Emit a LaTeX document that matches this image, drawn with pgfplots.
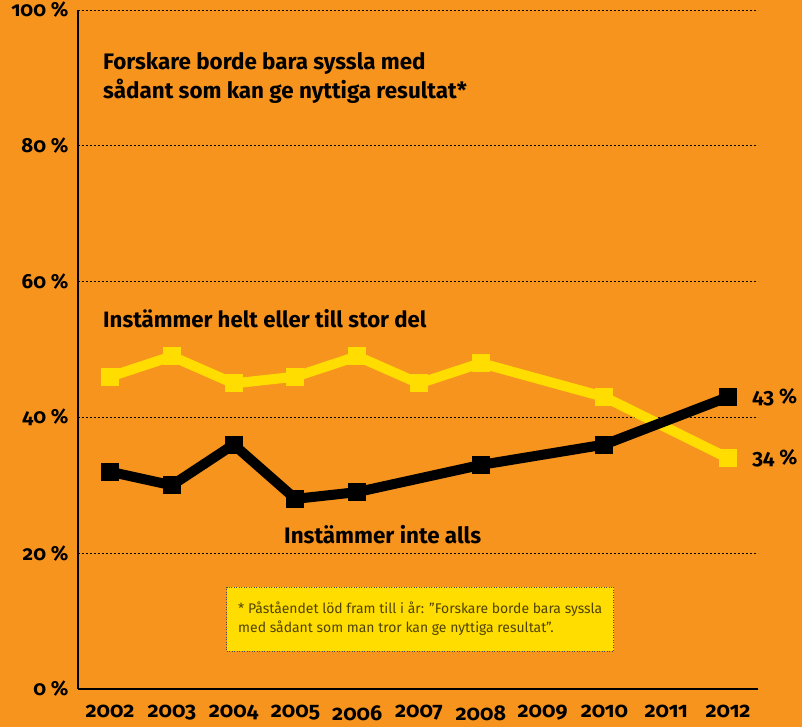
\documentclass[border=0pt]{standalone}
\usepackage{fontspec}
\setmainfont{Fira Sans}[Numbers=OldStyle]
\usepackage{pgfplots}
\pgfplotsset{compat=1.18}
\usetikzlibrary{backgrounds}
\definecolor{bgorange}{RGB}{247,148,30}
\definecolor{lineyellow}{RGB}{255,221,0}
\definecolor{notetext}{RGB}{80,68,0}

\begin{document}
\begin{tikzpicture}[x=1bp,y=1bp]
\begin{axis}[
    scale only axis,
    width=680bp, height=679bp,
    xmin=2001.482, xmax=2012.485,
    ymin=0, ymax=100,
    axis x line=bottom, axis y line=left,
    axis line style={line width=2.4bp, -},
    xtick={2002,2003,2004,2005,2006,2007,2008,2009,2010,2011,2012},
    xticklabels={2002,2003,2004,2005,2006,2007,2008,2009,2010,2011,2012},
    ytick={0,20,40,60,80,100},
    yticklabels={0 \%,20 \%,40 \%,60 \%,80 \%,100 \%},
    major tick length=0pt,
    xticklabel style={font=\bfseries\fontsize{21.5}{21.5}\selectfont, yshift=-13bp},
    yticklabel style={font=\bfseries\fontsize{20.5}{20.5}\selectfont, xshift=-6bp},
    ymajorgrids=true,
    grid style={black, line width=0.8bp, dash pattern=on 2bp off 2bp},
    clip=false,
]
\coordinate (O) at (rel axis cs:0,0);

\addplot[lineyellow, line width=10bp, mark=square*, mark size=8.5bp,
    mark options={solid, fill=lineyellow, draw=lineyellow, line width=0pt}]
    coordinates {(2002,46)(2003,49)(2004,45)(2005,46)(2006,49)(2007,45)(2008,48)(2010,43)(2012,34)};

\addplot[black, line width=10bp, mark=square*, mark size=8.5bp,
    mark options={solid, fill=black, line width=0pt}]
    coordinates {(2002,32)(2003,30)(2004,36)(2005,28)(2006,29)(2008,33)(2010,36)(2012,43)};

\node[anchor=west, inner sep=0pt, align=left, font=\bfseries\fontsize{22.5}{29}\selectfont]
    at (axis cs:2001.887,90.05) {Forskare borde bara syssla med\\sådant som kan ge nyttiga resultat*};
\node[anchor=west, inner sep=0pt, font=\bfseries\fontsize{22.3}{24}\selectfont]
    at (axis cs:2001.887,54.6) {Instämmer helt eller till stor del};
\node[anchor=west, inner sep=0pt, font=\bfseries\fontsize{22.5}{24}\selectfont]
    at (axis cs:2004.816,22.7) {Instämmer inte alls};
\node[anchor=west, inner sep=0pt, font=\bfseries\fontsize{21}{24}\selectfont]
    at (axis cs:2012.39,43) {43 \%};
\node[anchor=west, inner sep=0pt, font=\bfseries\fontsize{21}{24}\selectfont]
    at (axis cs:2012.39,34) {34 \%};

\node[fill=lineyellow, draw=black!70, dash pattern=on 1bp off 1.5bp, line width=0.8bp,
    minimum width=387bp, minimum height=64bp, inner sep=0pt,
    text=notetext, align=left, font=\fontsize{14}{19}\selectfont]
    at (axis cs:2007.02,10.3)
    {* Påståendet löd fram till i år: ”Forskare borde bara syssla\\med sådant som man tror kan ge nyttiga resultat”.};
\end{axis}
\begin{scope}[on background layer]
\fill[bgorange] ([shift={(-78bp,-38bp)}]O) rectangle ([shift={(724bp,689bp)}]O);
\end{scope}
\pgfresetboundingbox
\useasboundingbox ([shift={(-78bp,-38bp)}]O) rectangle ([shift={(724bp,689bp)}]O);
\end{tikzpicture}
\end{document}
